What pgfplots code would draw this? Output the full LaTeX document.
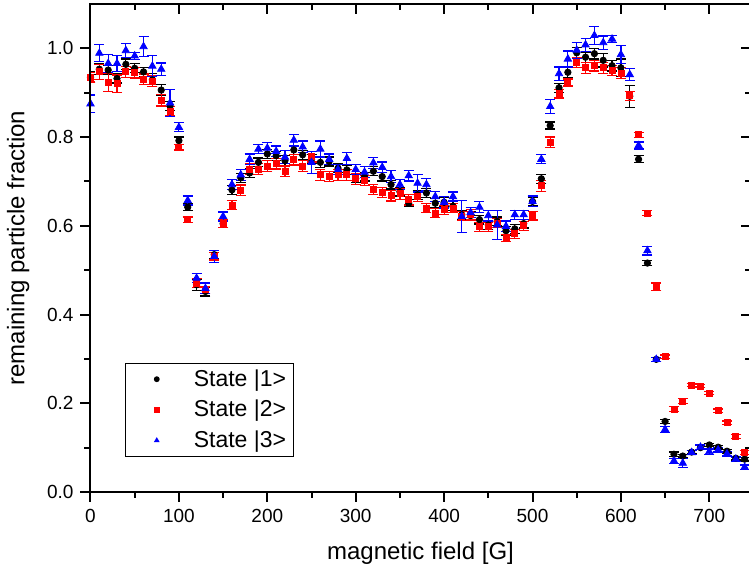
\documentclass[border=0pt]{standalone}
\usepackage{pgfplots}
\usepackage{pgfplotstable}
\pgfplotsset{compat=1.18}
\usetikzlibrary{calc}
\usepackage{fontspec}
\setmainfont{Liberation Sans}
\definecolor{myred}{RGB}{255,0,0}
\definecolor{myblue}{RGB}{0,0,255}

\pgfplotstableread{
x   y1    e1    y2    e2    y3    e3
0   0.935 0.012 0.935 0.011 0.875 0.020
10  0.953 0.012 0.947 0.017 0.989 0.019
20  0.951 0.010 0.923 0.020 0.966 0.021
30  0.932 0.010 0.920 0.020 0.966 0.018
40  0.964 0.012 0.947 0.012 0.995 0.016
50  0.955 0.010 0.945 0.012 0.983 0.008
60  0.947 0.010 0.930 0.012 1.004 0.022
70  0.929 0.015 0.926 0.012 0.960 0.023
80  0.906 0.012 0.883 0.013 0.953 0.014
90  0.870 0.010 0.859 0.010 0.877 0.030
100 0.792 0.008 0.777 0.006 0.822 0.010
110 0.642 0.008 0.614 0.006 0.657 0.010
120 0.467 0.012 0.471 0.010 0.482 0.010
130 0.452 0.010 0.456 0.008 0.459 0.012
140 0.535 0.010 0.531 0.008 0.531 0.014
150 0.605 0.008 0.605 0.008 0.621 0.010
160 0.681 0.010 0.647 0.010 0.693 0.012
170 0.708 0.010 0.680 0.012 0.715 0.012
180 0.719 0.010 0.728 0.012 0.750 0.012
190 0.743 0.010 0.728 0.012 0.773 0.010
200 0.762 0.010 0.735 0.012 0.775 0.012
210 0.758 0.010 0.740 0.012 0.768 0.012
220 0.747 0.012 0.723 0.012 0.755 0.015
230 0.771 0.010 0.749 0.012 0.793 0.013
240 0.760 0.010 0.735 0.012 0.778 0.013
250 0.750 0.010 0.756 0.012 0.743 0.025
260 0.743 0.012 0.715 0.012 0.773 0.018
270 0.745 0.010 0.711 0.012 0.750 0.012
280 0.730 0.010 0.715 0.012 0.727 0.012
290 0.726 0.010 0.715 0.012 0.752 0.013
300 0.707 0.010 0.706 0.012 0.727 0.012
310 0.711 0.010 0.702 0.012 0.721 0.012
320 0.723 0.010 0.682 0.012 0.742 0.012
330 0.711 0.010 0.675 0.012 0.732 0.012
340 0.693 0.010 0.668 0.012 0.711 0.014
350 0.677 0.010 0.672 0.012 0.693 0.012
360 0.651 0.008 0.659 0.012 0.713 0.012
370 0.670 0.010 0.666 0.012 0.696 0.020
380 0.674 0.010 0.640 0.010 0.693 0.014
390 0.651 0.010 0.629 0.010 0.666 0.012
400 0.653 0.010 0.636 0.010 0.653 0.013
410 0.644 0.010 0.640 0.010 0.666 0.010
420 0.625 0.010 0.622 0.010 0.621 0.036
430 0.623 0.010 0.625 0.012 0.630 0.012
440 0.614 0.010 0.598 0.010 0.642 0.012
450 0.602 0.010 0.598 0.010 0.623 0.012
460 0.610 0.010 0.606 0.010 0.602 0.032
470 0.589 0.010 0.573 0.008 0.599 0.012
480 0.593 0.010 0.582 0.010 0.625 0.010
490 0.605 0.010 0.600 0.010 0.625 0.010
500 0.655 0.010 0.623 0.010 0.655 0.012
510 0.706 0.010 0.690 0.012 0.750 0.010
520 0.826 0.008 0.788 0.012 0.869 0.015
530 0.911 0.010 0.898 0.010 0.943 0.015
540 0.946 0.012 0.923 0.008 0.976 0.018
550 0.990 0.012 0.968 0.012 0.996 0.018
560 0.980 0.012 0.956 0.012 1.008 0.015
570 0.988 0.012 0.961 0.012 1.029 0.020
580 0.973 0.015 0.956 0.012 1.013 0.015
590 0.961 0.012 0.950 0.012 1.021 0.008
600 0.956 0.020 0.944 0.012 0.986 0.020
610 0.892 0.025 0.893 0.010 0.941 0.014
620 0.750 0.008 0.805 0.006 0.781 0.008
630 0.516 0.005 0.629 0.005 0.544 0.010
640 0.299 0.004 0.463 0.008 0.299 0.004
650 0.159 0.005 0.305 0.004 0.141 0.006
660 0.085 0.005 0.187 0.005 0.070 0.006
670 0.081 0.004 0.205 0.005 0.065 0.010
680 0.090 0.004 0.241 0.004 0.089 0.005
690 0.100 0.004 0.239 0.004 0.101 0.005
700 0.106 0.004 0.223 0.004 0.091 0.006
710 0.101 0.004 0.183 0.004 0.095 0.005
720 0.092 0.004 0.156 0.004 0.086 0.005
730 0.076 0.004 0.125 0.004 0.074 0.005
740 0.074 0.004 0.089 0.004 0.056 0.005
}\data

\pgfplotsset{
  common/.style={
    width=330pt, height=244pt, scale only axis,
    xmin=0, xmax=746.6, ymin=0, ymax=1.1,
    xtick={0,100,...,700}, ytick={0,0.2,...,1.0},
    minor x tick num=1, minor y tick num=1,
    major tick length=5pt, minor tick length=3pt,
    axis line style={line width=1pt},
    every tick/.style={line width=1pt, black},
  },
}

\begin{document}
\begin{tikzpicture}
\begin{axis}[common,
  xtick pos=left, ytick pos=left, tick align=outside,
  tick label style={font=\fontsize{9.5}{11}\selectfont},
  /pgf/number format/assume math mode=true,
  yticklabel style={/pgf/number format/.cd, fixed, fixed zerofill, precision=1},
  scaled ticks=false,
  xlabel={magnetic field [G]}, ylabel={remaining particle fraction},
  label style={font=\fontsize{12}{14}\selectfont},
  xlabel style={yshift=-3pt},
  ylabel style={yshift=2pt},
  legend style={at={(0.052,0.072)}, anchor=south west, draw=black, line width=0.5pt,
    font=\fontsize{11.5}{13}\selectfont, inner xsep=1.5pt, inner ysep=1pt, row sep=1.5pt},
  legend cell align=left,
  legend image code/.code={\path[draw=none] (0cm,0cm) -- (1.08cm,0cm); \draw[#1, only marks, mark size=1.2pt] plot coordinates {(0.5cm,0cm)};},
  error bars/error bar style={line width=0.6pt},
  error bars/error mark options={rotate=90, mark size=2.5pt, line width=0.6pt},
]
\addplot[only marks, black, mark=*, mark size=1.6pt,
  error bars/.cd, y dir=both, y explicit]
  table[x=x, y=y1, y error=e1] {\data};
\addlegendentry{State |1>}
\addplot[only marks, myred, mark=square*, mark size=1.5pt,
  error bars/.cd, y dir=both, y explicit]
  table[x=x, y=y2, y error=e2] {\data};
\addlegendentry{State |2>}
\addplot[only marks, myblue, mark=triangle*, mark size=2.1pt,
  error bars/.cd, y dir=both, y explicit]
  table[x=x, y=y3, y error=e3] {\data};
\addlegendentry{State |3>}
\end{axis}
\begin{axis}[common,
  xtick pos=right, ytick pos=right, tick align=inside,
  xticklabels={}, yticklabels={},
]
\end{axis}
\pgfresetboundingbox
\path[use as bounding box] ($(current axis.south west)+(-45.25pt,-39.5pt)$) rectangle ($(current axis.north east)+(-0.75pt,2pt)$);
\end{tikzpicture}
\end{document}
